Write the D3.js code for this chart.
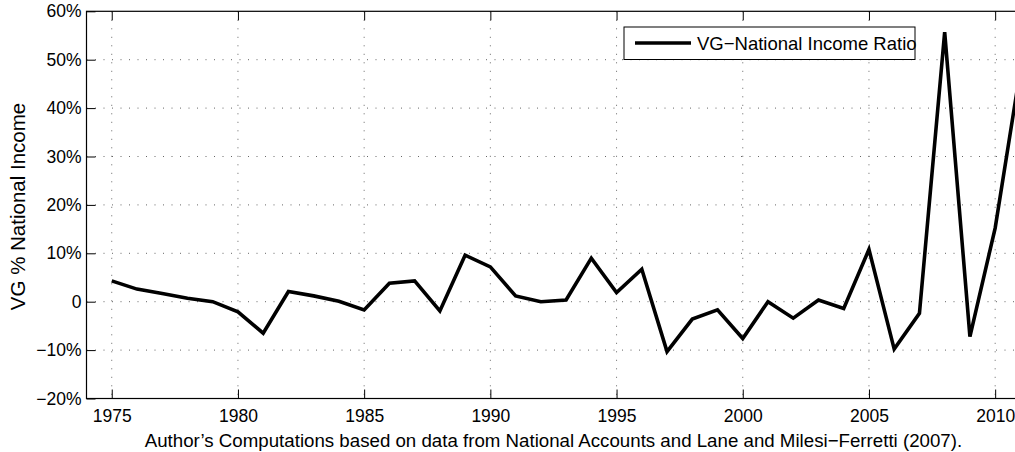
<!DOCTYPE html>
<html>
<head>
<meta charset="utf-8">
<script src="https://cdn.jsdelivr.net/npm/d3@7"></script>
<style>
  body { margin: 0; background: #fff; }
  svg text { font-family: "Liberation Sans", Arial, Helvetica, sans-serif; fill: #000; }
</style>
</head>
<body>
<script>
// Data (VG as % of national income)
const years = [1975, 1976, 1977, 1978, 1979, 1980, 1981, 1982, 1983, 1984,
               1985, 1986, 1987, 1988, 1989, 1990, 1991, 1992, 1993, 1994,
               1995, 1996, 1997, 1998, 1999, 2000, 2001, 2002, 2003, 2004,
               2005, 2006, 2007, 2008, 2009, 2010, 2011];
const ratio = [4.3, 2.6, 1.7, 0.7, 0.0, -2.1, -6.5, 2.1, 1.2, 0.1,
               -1.7, 3.8, 4.3, -1.9, 9.6, 7.2, 1.2, 0.0, 0.35, 9.0,
               1.9, 6.7, -10.3, -3.6, -1.7, -7.6, 0.0, -3.4, 0.35, -1.4,
               10.8, -9.8, -2.4, 55.7, -7.2, 15.2, 48.0];
const xTicks = [1975, 1980, 1985, 1990, 1995, 2000, 2005, 2010];
const yTicks = [-20, -10, 0, 10, 20, 30, 40, 50, 60];
const seriesName = "VG\u2212National Income Ratio";
const yTitle = "VG % National Income";
const xTitle = "Author\u2019s Computations based on data from National Accounts and Lane and Milesi\u2212Ferretti (2007).";

const width = 1015, height = 452;
const plotL = 86.5, plotR = 1020.4, plotT = 11.3, plotB = 398.5;

const x = d3.scaleLinear().domain([1974, 2011]).range([plotL, plotR]);
const y = d3.scaleLinear().domain([-20, 60]).range([plotB, plotT]);

const svg = d3.select("body").append("svg")
    .attr("width", width)
    .attr("height", height);

const yFmt = d => d === 0 ? "0" : d3.format("d")(d).replace("-", "\u2212") + "%";

// dotted grid
svg.append("g")
    .selectAll("line")
    .data(xTicks)
    .join("line")
    .attr("x1", d => x(d)).attr("x2", d => x(d))
    .attr("y1", plotT).attr("y2", plotB)
    .attr("stroke", "#666").attr("stroke-width", 1)
    .attr("stroke-dasharray", "1,7.5");
svg.append("g")
    .selectAll("line")
    .data(yTicks.slice(1, -1))
    .join("line")
    .attr("x1", plotL).attr("x2", plotR)
    .attr("y1", d => y(d)).attr("y2", d => y(d))
    .attr("stroke", "#666").attr("stroke-width", 1)
    .attr("stroke-dasharray", "1,7.5");

// axes (ticks pointing inward, MATLAB style)
const fontSize = 17.5;
svg.append("g")
    .attr("transform", `translate(0,${plotB})`)
    .call(d3.axisBottom(x).tickValues(xTicks).tickFormat(d3.format("d")).tickSize(-9).tickPadding(11.5))
    .call(g => g.select(".domain").remove())
    .call(g => g.selectAll("text").style("font-size", fontSize + "px").attr("font-family", null));
svg.append("g")
    .attr("transform", `translate(0,${plotT})`)
    .call(d3.axisTop(x).tickValues(xTicks).tickFormat("").tickSize(-9))
    .call(g => g.select(".domain").remove());
svg.append("g")
    .attr("transform", `translate(${plotL},0)`)
    .call(d3.axisLeft(y).tickValues(yTicks).tickFormat(yFmt).tickSize(-9).tickPadding(5))
    .call(g => g.select(".domain").remove())
    .call(g => g.selectAll("text").style("font-size", fontSize + "px").attr("font-family", null));

// frame
svg.append("rect")
    .attr("x", plotL).attr("y", plotT)
    .attr("width", plotR - plotL).attr("height", plotB - plotT)
    .attr("fill", "none").attr("stroke", "#000").attr("stroke-width", 1.2);

// series
const line = d3.line().x((d, i) => x(years[i])).y(d => y(d));
svg.append("path")
    .datum(ratio)
    .attr("fill", "none")
    .attr("stroke", "#000")
    .attr("stroke-width", 3.6)
    .attr("stroke-linejoin", "miter")
    .attr("d", line);

// legend
const lg = svg.append("g").attr("transform", "translate(624,27)");
lg.append("rect")
    .attr("width", 291).attr("height", 32.5)
    .attr("fill", "#fff").attr("stroke", "#000").attr("stroke-width", 1);
lg.append("line")
    .attr("x1", 11).attr("x2", 67).attr("y1", 16).attr("y2", 16)
    .attr("stroke", "#000").attr("stroke-width", 3.6);
lg.append("text")
    .attr("x", 73).attr("y", 22.5)
    .style("font-size", "18.5px")
    .text(seriesName);

// titles
svg.append("text")
    .attr("x", (plotL + plotR) / 2).attr("y", 446.5)
    .attr("text-anchor", "middle")
    .style("font-size", "18.7px")
    .text(xTitle);
svg.append("text")
    .attr("transform", "translate(25,206.5) rotate(-90)")
    .attr("text-anchor", "middle")
    .style("font-size", "20.5px")
    .text(yTitle);
</script>
</body>
</html>
